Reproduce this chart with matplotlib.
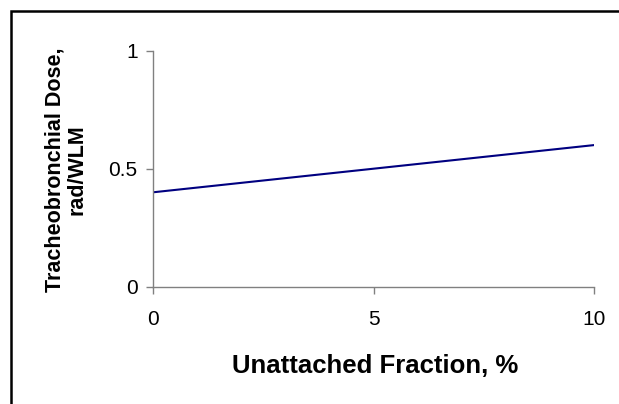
import matplotlib
matplotlib.use("Agg")
import matplotlib.pyplot as plt
from matplotlib.patches import Rectangle

# data
unattached_pct = [0, 10]
tb_dose = [0.4, 0.6]
x_ticks = [0, 5, 10]
y_ticks = [0, 0.5, 1]
y_tick_labels = ['0', '0.5', '1']

plt.rcParams['font.family'] = ['Liberation Sans', 'DejaVu Sans']

W, H = 619, 404
fig = plt.figure(figsize=(W / 100, H / 100), dpi=100)

# outer chart border (only top/left visible in the crop)
fig.patches.append(Rectangle((11 / W, -0.1), 1.2, (H - 11) / H + 0.1,
                             transform=fig.transFigure, fill=False,
                             edgecolor='black', linewidth=1.8))

ax = fig.add_axes([153 / W, (H - 286.7) / H, (594 - 153) / W, (286.7 - 50.7) / H])
ax.plot(unattached_pct, tb_dose, color='#000080', linewidth=1.5)

ax.set_xlim(0, 10)
ax.set_ylim(0, 1)
ax.set_xticks(x_ticks)
ax.set_yticks(y_ticks)
ax.set_xticklabels([str(v) for v in x_ticks])
ax.set_yticklabels(y_tick_labels)

for s in ['top', 'right']:
    ax.spines[s].set_visible(False)
for s in ['left', 'bottom']:
    ax.spines[s].set_color('#808080')
    ax.spines[s].set_linewidth(1.0)
ax.tick_params(axis='both', direction='out', length=5, width=1.0,
               color='#808080', labelsize=15, labelcolor='black')
ax.tick_params(axis='y', pad=6)
ax.tick_params(axis='x', pad=12)

# axis titles placed in figure pixels
fig.text(375 / W, 1 - 373 / H, 'Unattached Fraction, %', fontsize=18.5,
         fontweight='bold', ha='center', va='baseline')
fig.text(66 / W, 1 - 170 / H, 'Tracheobronchial Dose,\nrad/WLM', fontsize=15.5,
         fontweight='bold', rotation=90, ha='center', va='center',
         multialignment='center', linespacing=1.05)

fig.savefig('out.png', dpi=100)
